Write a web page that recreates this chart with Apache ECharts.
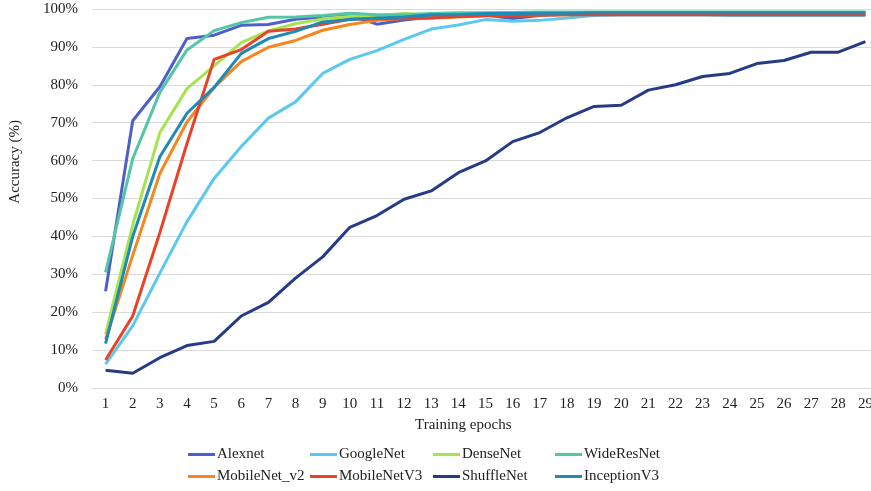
<!DOCTYPE html>
<html>
<head>
<meta charset="utf-8">
<script src="https://cdn.jsdelivr.net/npm/echarts@6/dist/echarts.min.js"></script>
<style>html,body{margin:0;padding:0;background:#fff;}#c{width:871px;height:491px;}</style>
</head>
<body>
<div id="c"></div>
<script>
var epochs = ['1','2','3','4','5','6','7','8','9','10','11','12','13','14','15','16','17','18','19','20','21','22','23','24','25','26','27','28','29'];
var yTicks = [0,10,20,30,40,50,60,70,80,90,100];

var alexnet     = [25.5,70.5,79.5,92.2,93.1,95.7,95.9,97.3,97.9,98.3,96.0,97.1,97.9,98.1,98.4,97.5,98.3,98.6,98.8,98.9,98.9,98.9,98.9,98.9,98.9,98.9,98.9,98.9,98.9];
var googlenet   = [6.3,16.4,30.3,43.9,55.3,63.7,71.2,75.5,83.0,86.7,89.0,92.0,94.7,95.8,97.2,96.8,97.0,97.6,98.3,98.4,98.4,98.4,98.4,98.3,98.3,98.3,98.3,98.3,98.3];
var densenet    = [14.2,43.0,67.4,79.0,85.0,91.1,94.2,96.1,97.4,98.0,98.2,98.8,98.5,98.7,98.8,98.9,99.0,99.0,99.1,99.1,99.1,99.1,99.1,99.1,99.1,99.1,99.1,99.1,99.1];
var wideresnet  = [30.5,60.5,78.0,89.2,94.3,96.4,97.8,97.9,98.3,98.9,98.5,98.5,98.8,99.0,99.0,99.1,99.2,99.2,99.2,99.2,99.2,99.2,99.2,99.2,99.2,99.2,99.2,99.2,99.2];
var mobilenetv2 = [12.8,35.0,56.6,70.2,79.3,86.1,89.9,91.7,94.4,95.9,97.0,97.5,97.6,97.9,98.2,98.3,98.4,98.5,98.6,98.7,98.7,98.7,98.7,98.7,98.7,98.7,98.7,98.7,98.7];
var mobilenetv3 = [7.4,19.0,41.0,64.5,86.7,89.3,94.1,94.7,96.0,97.3,97.4,97.4,97.6,98.0,98.2,98.3,98.4,98.5,98.5,98.5,98.5,98.5,98.5,98.5,98.5,98.5,98.5,98.5,98.5];
var shufflenet  = [4.7,3.9,8.0,11.2,12.3,19.0,22.6,29.0,34.6,42.4,45.5,49.8,52.0,56.8,59.9,65.0,67.4,71.3,74.3,74.6,78.6,80.0,82.2,83.0,85.6,86.4,88.6,88.6,91.4];
var inceptionv3 = [11.7,40.0,61.0,72.5,79.3,88.3,92.2,94.1,96.6,97.2,97.6,97.9,98.5,98.5,98.8,98.8,98.9,98.9,99.0,99.0,99.0,99.0,99.0,99.0,99.0,99.0,99.0,99.0,99.0];

var names  = ['Alexnet','GoogleNet','DenseNet','WideResNet','MobileNet_v2','MobileNetV3','ShuffleNet','InceptionV3'];
var values = [alexnet,googlenet,densenet,wideresnet,mobilenetv2,mobilenetv3,shufflenet,inceptionv3];
var colors = ['#4f5fc9','#5bc8f0','#a6e34e','#52c6a6','#f7861e','#ea4127','#263b87','#1c8bb7'];

var FONT = "'Liberation Serif','Times New Roman',serif";
var legendLeft = [188,310,433,555];
var legendTop = [447,469];

var legends = names.map(function(n,i){
  return {
    data:[n], left: legendLeft[i%4], top: legendTop[Math.floor(i/4)],
    icon:'rect', itemWidth:27, itemHeight:3, itemGap:0, padding:0,
    textStyle:{fontFamily:FONT,fontSize:15,color:'#222',padding:[0,0,0,-3]}
  };
});

var series = names.map(function(n,i){
  return {
    name:n, type:'line', data:values[i], symbol:'none',
    lineStyle:{width:3,color:colors[i]}, itemStyle:{color:colors[i]},
    animation:false
  };
});

var chart = echarts.init(document.getElementById('c'));
chart.setOption({
  animation:false,
  color:colors,
  legend:legends,
  grid:{left:92,width:787,top:9,bottom:103,containLabel:false,outerBoundsMode:'none'},
  xAxis:{
    type:'category', data:epochs, boundaryGap:true,
    axisLine:{show:true,lineStyle:{color:'#d9d9d9',width:1}},
    axisTick:{show:false},
    axisLabel:{fontFamily:FONT,fontSize:15,color:'#222',margin:9,interval:0}
  },
  yAxis:{
    type:'value', min:yTicks[0], max:yTicks[yTicks.length-1], interval:10,
    axisLine:{show:false}, axisTick:{show:false},
    splitLine:{lineStyle:{color:'#d9d9d9',width:1}},
    axisLabel:{fontFamily:FONT,fontSize:15,color:'#222',margin:14,formatter:'{value}%'}
  },
  graphic:[
    {type:'text',left:8,top:120,rotation:Math.PI/2,style:{text:'Accuracy (%)',font:'15px '+FONT,fill:'#222'}},
    {type:'text',left:415,top:418,style:{text:'Training epochs',font:'15px '+FONT,fill:'#222'}}
  ],
  series:series
});
</script>
</body>
</html>
